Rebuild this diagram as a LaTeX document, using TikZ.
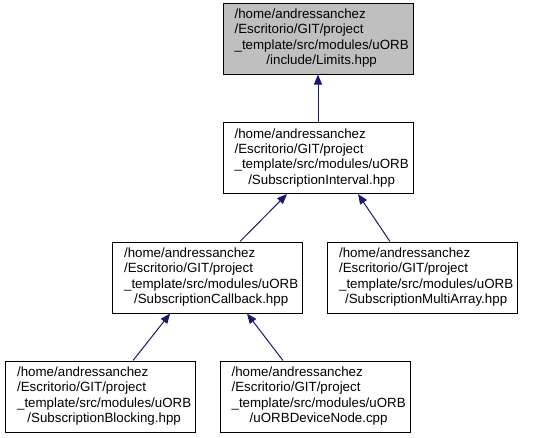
\documentclass[tikz,border=0pt]{standalone}
\usepackage{fontspec}
\setmainfont{Liberation Sans}
\usetikzlibrary{arrows.meta}
\definecolor{edgeblue}{HTML}{191970}
\definecolor{hilite}{HTML}{BFBFBF}
\newcommand\flines[4]{\hspace*{5.5pt}\begin{tabular}{@{}l@{}}#1\\#2\\#3\\\multicolumn{1}{@{}c@{}}{#4}\end{tabular}}
\tikzset{
  filebox/.style={draw=black, line width=0.75pt, fill=white, minimum width=142.5pt, minimum height=53.25pt, inner sep=0pt, font=\fontsize{10}{11.5}\selectfont},
  dep/.style={draw=edgeblue, line width=0.75pt, -{Triangle[length=7.5pt,width=6pt,fill=edgeblue]}}
}
\begin{document}
\begin{tikzpicture}[x=0.75pt,y=-0.75pt]
\useasboundingbox (0,0) rectangle (533,437);
\node[filebox, fill=hilite] (lim) at (318,38.5) {\flines{/home/andressanchez}{/Escritorio/GIT/project}{\_template/src/modules/uORB}{/include/Limits.hpp}};
\node[filebox] (int) at (318,158) {\flines{/home/andressanchez}{/Escritorio/GIT/project}{\_template/src/modules/uORB}{/SubscriptionInterval.hpp}};
\node[filebox] (cb) at (207.5,277.5) {\flines{/home/andressanchez}{/Escritorio/GIT/project}{\_template/src/modules/uORB}{/SubscriptionCallback.hpp}};
\node[filebox] (ma) at (422.5,277.5) {\flines{/home/andressanchez}{/Escritorio/GIT/project}{\_template/src/modules/uORB}{/SubscriptionMultiArray.hpp}};
\node[filebox] (blk) at (100.5,396.5) {\flines{/home/andressanchez}{/Escritorio/GIT/project}{\_template/src/modules/uORB}{/SubscriptionBlocking.hpp}};
\node[filebox] (dev) at (315,396.5) {\flines{/home/andressanchez}{/Escritorio/GIT/project}{\_template/src/modules/uORB}{/uORBDeviceNode.cpp}};
\draw[dep] (int.north) -- (lim.south);
\draw[dep] ([xshift=24.4pt]cb.north) -- ([xshift=-23.25pt]int.south);
\draw[dep] ([xshift=-24.4pt]ma.north) -- ([xshift=30pt]int.south);
\draw[dep] ([xshift=24.4pt]blk.north) -- ([xshift=-28pt]cb.south);
\draw[dep] ([xshift=-24pt]dev.north) -- ([xshift=29.6pt]cb.south);
\end{tikzpicture}
\end{document}
